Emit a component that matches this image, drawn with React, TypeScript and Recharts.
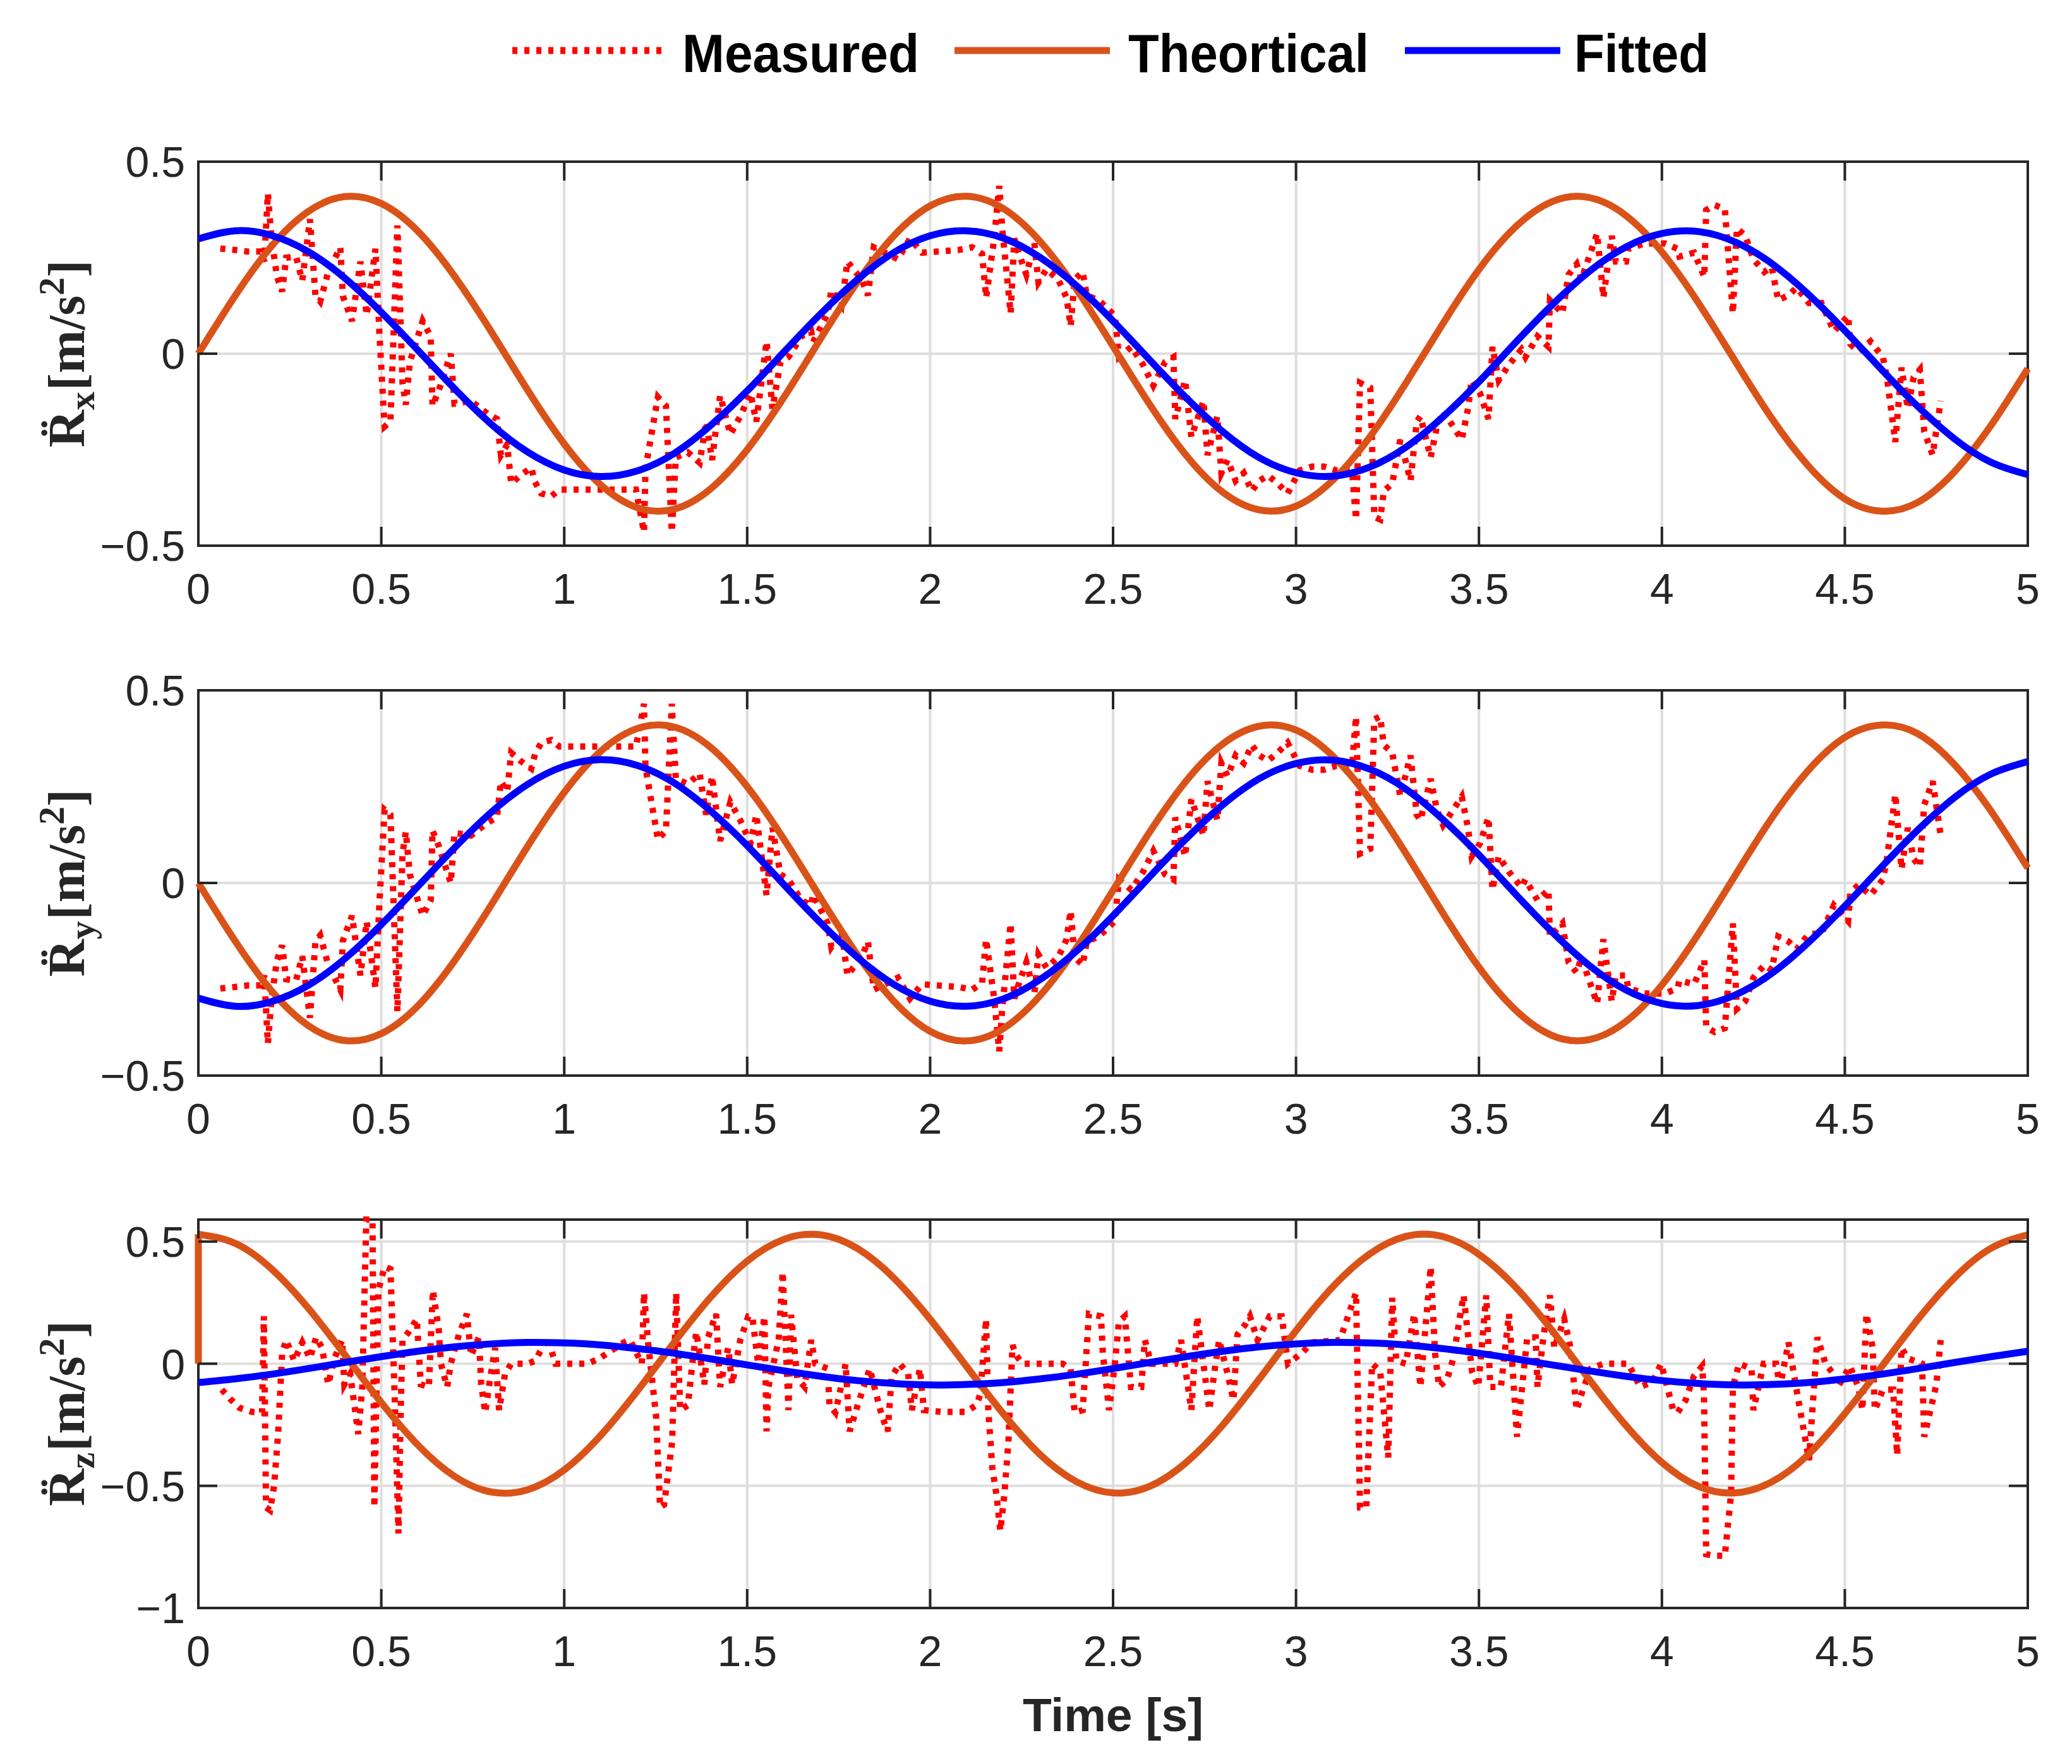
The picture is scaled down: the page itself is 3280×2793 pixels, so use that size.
import React from "react";
import {
  LineChart,
  Line,
  XAxis,
  YAxis,
  CartesianGrid,
  ReferenceArea,
} from "recharts";

// figure geometry (px)
const FIG_W = 3280;
const FIG_H = 2793;
const PLOT_LEFT = 314;
const PLOT_RIGHT = 3210;
const PLOT_W = PLOT_RIGHT - PLOT_LEFT;
const PAD_TOP = 40;
const X_AXIS_H = 130;
const TICK_LEN = 30;
const X_LABEL_GAP = 44;
const Y_LABEL_GAP = 21;

const AXIS_COLOR = "#262626";
const GRID_COLOR = "#dedede";
const RED = "#ff0000";
const ORANGE = "#d95319";
const BLUE = "#0000ff";
const SANS = "'Liberation Sans', Arial, Helvetica, sans-serif";
const SERIF = "'Liberation Serif', 'Times New Roman', serif";

const X_TICKS = [0, 0.5, 1, 1.5, 2, 2.5, 3, 3.5, 4, 4.5, 5];
const Y_TICKS_XY = [-0.5, 0, 0.5];
const Y_TICKS_Z = [-1, -0.5, 0, 0.5];

// time grid of the model curves
const TIME = [
  0, 0.1, 0.2, 0.3, 0.4, 0.5, 0.6, 0.7, 0.8, 0.9,
  1, 1.1, 1.2, 1.3, 1.4, 1.5, 1.6, 1.7, 1.8, 1.9,
  2, 2.1, 2.2, 2.3, 2.4, 2.5, 2.6, 2.7, 2.8, 2.9,
  3, 3.1, 3.2, 3.3, 3.4, 3.5, 3.6, 3.7, 3.8, 3.9,
  4, 4.1, 4.2, 4.3, 4.4, 4.5, 4.6, 4.7, 4.8, 4.9,
  5,
];

const THEO_X = [
  0, 0.15, 0.28, 0.37, 0.409, 0.391, 0.319, 0.202, 0.058, -0.095,
  -0.235, -0.342, -0.401, -0.405, -0.352, -0.25, -0.114, 0.038, 0.185, 0.306,
  0.385, 0.41, 0.378, 0.293, 0.168, 0.019, -0.132, -0.265, -0.361, -0.407,
  -0.397, -0.33, -0.219, -0.077, 0.076, 0.219, 0.33, 0.396, 0.407, 0.361,
  0.265, 0.132, -0.019, -0.168, -0.292, -0.378, -0.41, -0.387, -0.307, -0.186,
  -0.039,
];
const THEO_Y = [
  0, -0.15, -0.28, -0.37, -0.409, -0.391, -0.319, -0.202, -0.058, 0.095,
  0.235, 0.342, 0.401, 0.405, 0.352, 0.25, 0.114, -0.038, -0.185, -0.306,
  -0.385, -0.41, -0.378, -0.293, -0.168, -0.019, 0.132, 0.265, 0.361, 0.407,
  0.397, 0.33, 0.219, 0.077, -0.076, -0.219, -0.33, -0.396, -0.407, -0.361,
  -0.265, -0.132, 0.019, 0.168, 0.292, 0.378, 0.41, 0.387, 0.307, 0.186,
  0.039,
];
const THEO_Z_START = 0;
const THEO_Z = [
  0.53, 0.493, 0.388, 0.228, 0.037, -0.159, -0.333, -0.461, -0.525, -0.516,
  -0.435, -0.293, -0.111, 0.086, 0.272, 0.42, 0.509, 0.528, 0.473, 0.352,
  0.182, -0.012, -0.205, -0.371, -0.483, -0.529, -0.502, -0.404, -0.251, -0.062,
  0.135, 0.314, 0.448, 0.521, 0.521, 0.448, 0.314, 0.136, -0.062, -0.25,
  -0.404, -0.502, -0.529, -0.484, -0.372, -0.204, -0.013, 0.182, 0.352, 0.473,
  0.528,
];

const FIT_X = [
  0.299, 0.32, 0.308, 0.266, 0.197, 0.108, 0.009, -0.091, -0.183, -0.256,
  -0.303, -0.32, -0.305, -0.26, -0.187, -0.097, 0.004, 0.103, 0.192, 0.263,
  0.307, 0.32, 0.301, 0.251, 0.177, 0.085, -0.016, -0.115, -0.203, -0.271,
  -0.31, -0.319, -0.296, -0.244, -0.166, -0.073, 0.029, 0.127, 0.213, 0.277,
  0.313, 0.318, 0.291, 0.235, 0.155, 0.06, -0.041, -0.138, -0.222, -0.283,
  -0.315,
];
const FIT_Y = [
  -0.299, -0.32, -0.308, -0.266, -0.197, -0.108, -0.009, 0.091, 0.183, 0.256,
  0.303, 0.32, 0.305, 0.26, 0.187, 0.097, -0.004, -0.103, -0.192, -0.263,
  -0.307, -0.32, -0.301, -0.251, -0.177, -0.085, 0.016, 0.115, 0.203, 0.271,
  0.31, 0.319, 0.296, 0.244, 0.166, 0.073, -0.029, -0.127, -0.213, -0.277,
  -0.313, -0.318, -0.291, -0.235, -0.155, -0.06, 0.041, 0.138, 0.222, 0.283,
  0.315,
];
const FIT_Z = [
  -0.077, -0.062, -0.043, -0.02, 0.005, 0.029, 0.051, 0.069, 0.081, 0.087,
  0.085, 0.077, 0.062, 0.043, 0.02, -0.005, -0.029, -0.051, -0.069, -0.081,
  -0.087, -0.085, -0.077, -0.062, -0.043, -0.02, 0.005, 0.029, 0.051, 0.069,
  0.081, 0.087, 0.085, 0.077, 0.062, 0.043, 0.02, -0.005, -0.029, -0.051,
  -0.069, -0.081, -0.087, -0.085, -0.077, -0.062, -0.043, -0.02, 0.005, 0.029,
  0.051,
];

// sensor samples (x and y channels share the same timestamps)
const MEAS_XY_T = [
  0.06, 0.1, 0.135, 0.17, 0.18, 0.19, 0.2, 0.215, 0.229, 0.24,
  0.267, 0.284, 0.305, 0.32, 0.333, 0.355, 0.388, 0.395, 0.42, 0.443,
  0.46, 0.484, 0.495, 0.509, 0.525, 0.544, 0.558, 0.567, 0.578, 0.613,
  0.635, 0.64, 0.657, 0.69, 0.7, 0.745, 0.79, 0.816, 0.827, 0.844,
  0.855, 0.88, 0.91, 0.92, 0.937, 0.965, 0.987, 1.196, 1.218, 1.222,
  1.256, 1.278, 1.294, 1.305, 1.338, 1.37, 1.388, 1.404, 1.426, 1.454,
  1.481, 1.509, 1.525, 1.553, 1.569, 1.591, 1.613, 1.648, 1.675, 1.68,
  1.72, 1.73, 1.758, 1.774, 1.79, 1.813, 1.83, 1.846, 1.912, 1.945,
  1.978, 2.02, 2.077, 2.115, 2.142, 2.153, 2.175, 2.189, 2.197, 2.22,
  2.23, 2.241, 2.263, 2.285, 2.296, 2.318, 2.35, 2.373, 2.384, 2.395,
  2.417, 2.428, 2.461, 2.505, 2.516, 2.55, 2.582, 2.61, 2.642, 2.665,
  2.67, 2.697, 2.714, 2.747, 2.758, 2.785, 2.796, 2.813, 2.835, 2.857,
  2.879, 2.9, 2.923, 2.95, 2.977, 3.01, 3.044, 3.077, 3.11, 3.153,
  3.164, 3.175, 3.203, 3.214, 3.23, 3.24, 3.263, 3.285, 3.313, 3.33,
  3.34, 3.368, 3.385, 3.402, 3.425, 3.453, 3.47, 3.48, 3.503, 3.526,
  3.537, 3.554, 3.582, 3.616, 3.627, 3.66, 3.69, 3.694, 3.728, 3.745,
  3.767, 3.78, 3.806, 3.823, 3.84, 3.863, 3.874, 3.902, 3.908, 3.953,
  4.009, 4.043, 4.048, 4.088, 4.116, 4.121, 4.144, 4.172, 4.194, 4.205,
  4.228, 4.25, 4.28, 4.3, 4.318, 4.346, 4.368, 4.402, 4.436, 4.47,
  4.509, 4.515, 4.537, 4.57, 4.604, 4.615, 4.638, 4.655, 4.672, 4.688,
  4.705, 4.717, 4.74, 4.762,
];
const MEAS_X = [
  0.274, 0.27, 0.266, 0.266, 0.24, 0.417, 0.3, 0.2, 0.162, 0.25,
  0.253, 0.19, 0.35, 0.152, 0.136, 0.213, 0.277, 0.15, 0.085, 0.24,
  0.1, 0.273, 0.05, -0.19, -0.177, 0.334, -0.076, -0.133, -0.022, 0.085,
  0.045, -0.136, -0.096, 0, -0.13, -0.123, -0.156, -0.17, -0.264, -0.237,
  -0.338, -0.317, -0.297, -0.334, -0.364, -0.371, -0.354, -0.354, -0.465, -0.3,
  -0.113, -0.136, -0.465, -0.27, -0.257, -0.284, -0.177, -0.277, -0.109, -0.21,
  -0.163, -0.103, -0.177, 0.032, -0.143, -0.022, -0.009, 0.045, 0.058, 0.03,
  0.105, 0.166, 0.126, 0.24, 0.22, 0.193, 0.152, 0.277, 0.246, 0.3,
  0.263, 0.266, 0.27, 0.277, 0.26, 0.146, 0.3, 0.437, 0.327, 0.105,
  0.3, 0.266, 0.206, 0.287, 0.186, 0.22, 0.193, 0.146, 0.072, 0.193,
  0.213, 0.152, 0.139, 0.099, -0.009, 0.018, -0.029, -0.083, -0.022, -0.009,
  -0.17, -0.069, -0.217, -0.123, -0.264, -0.163, -0.311, -0.277, -0.331, -0.311,
  -0.358, -0.331, -0.317, -0.338, -0.364, -0.304, -0.294, -0.294, -0.304, -0.304,
  -0.432, -0.076, -0.089, -0.425, -0.432, -0.358, -0.338, -0.224, -0.331, -0.177,
  -0.163, -0.27, -0.19, -0.15, -0.183, -0.224, -0.143, -0.069, -0.103, -0.17,
  0.018, -0.069, -0.029, 0.011, -0.009, 0.045, 0.018, 0.139, 0.105, 0.206,
  0.233, 0.193, 0.266, 0.313, 0.146, 0.307, 0.24, 0.24, 0.273, 0.287,
  0.287, 0.273, 0.253, 0.263, 0.2, 0.374, 0.387, 0.377, 0.105, 0.327,
  0.307, 0.246, 0.213, 0.226, 0.139, 0.152, 0.172, 0.132, 0.132, 0.058,
  0.099, 0.025, 0.005, 0.032, -0.009, -0.062, -0.23, -0.036, -0.143, -0.062,
  -0.042, -0.203, -0.264, -0.123,
];
const MEAS_Y = [
  -0.274, -0.27, -0.266, -0.266, -0.24, -0.417, -0.3, -0.2, -0.162, -0.25,
  -0.253, -0.19, -0.35, -0.152, -0.136, -0.213, -0.277, -0.15, -0.085, -0.24,
  -0.1, -0.273, -0.05, 0.19, 0.177, -0.334, 0.076, 0.133, 0.022, -0.085,
  -0.045, 0.136, 0.096, 0, 0.13, 0.123, 0.156, 0.17, 0.264, 0.237,
  0.338, 0.317, 0.297, 0.334, 0.364, 0.371, 0.354, 0.354, 0.465, 0.3,
  0.113, 0.136, 0.465, 0.27, 0.257, 0.284, 0.177, 0.277, 0.109, 0.21,
  0.163, 0.103, 0.177, -0.032, 0.143, 0.022, 0.009, -0.045, -0.058, -0.03,
  -0.105, -0.166, -0.126, -0.24, -0.22, -0.193, -0.152, -0.277, -0.246, -0.3,
  -0.263, -0.266, -0.27, -0.277, -0.26, -0.146, -0.3, -0.437, -0.327, -0.105,
  -0.3, -0.266, -0.206, -0.287, -0.186, -0.22, -0.193, -0.146, -0.072, -0.193,
  -0.213, -0.152, -0.139, -0.099, 0.009, -0.018, 0.029, 0.083, 0.022, 0.009,
  0.17, 0.069, 0.217, 0.123, 0.264, 0.163, 0.311, 0.277, 0.331, 0.311,
  0.358, 0.331, 0.317, 0.338, 0.364, 0.304, 0.294, 0.294, 0.304, 0.304,
  0.432, 0.076, 0.089, 0.425, 0.432, 0.358, 0.338, 0.224, 0.331, 0.177,
  0.163, 0.27, 0.19, 0.15, 0.183, 0.224, 0.143, 0.069, 0.103, 0.17,
  -0.018, 0.069, 0.029, -0.011, 0.009, -0.045, -0.018, -0.139, -0.105, -0.206,
  -0.233, -0.193, -0.266, -0.313, -0.146, -0.307, -0.24, -0.24, -0.273, -0.287,
  -0.287, -0.273, -0.253, -0.263, -0.2, -0.374, -0.387, -0.377, -0.105, -0.327,
  -0.307, -0.246, -0.213, -0.226, -0.139, -0.152, -0.172, -0.132, -0.132, -0.058,
  -0.099, -0.025, -0.005, -0.032, 0.009, 0.062, 0.23, 0.036, 0.143, 0.062,
  0.042, 0.203, 0.264, 0.123,
];

const MEAS_Z_T = [
  0.064, 0.086, 0.113, 0.146, 0.174, 0.179, 0.185, 0.196, 0.207, 0.218,
  0.229, 0.24, 0.262, 0.284, 0.305, 0.322, 0.338, 0.355, 0.372, 0.393,
  0.399, 0.415, 0.437, 0.448, 0.459, 0.476, 0.481, 0.492, 0.509, 0.525,
  0.536, 0.547, 0.553, 0.558, 0.575, 0.597, 0.608, 0.63, 0.641, 0.657,
  0.663, 0.68, 0.69, 0.712, 0.734, 0.745, 0.767, 0.773, 0.784, 0.795,
  0.811, 0.822, 0.838, 0.855, 0.899, 0.921, 0.954, 0.976, 1.064, 1.097,
  1.13, 1.163, 1.18, 1.212, 1.218, 1.229, 1.251, 1.262, 1.273, 1.295,
  1.306, 1.317, 1.338, 1.35, 1.361, 1.383, 1.393, 1.415, 1.426, 1.448,
  1.459, 1.481, 1.503, 1.514, 1.53, 1.547, 1.553, 1.558, 1.586, 1.597,
  1.613, 1.62, 1.637, 1.657, 1.675, 1.686, 1.72, 1.725, 1.741, 1.758,
  1.769, 1.78, 1.802, 1.835, 1.846, 1.868, 1.884, 1.895, 1.917, 1.94,
  1.95, 1.972, 1.983, 2.033, 2.098, 2.126, 2.137, 2.153, 2.159, 2.17,
  2.181, 2.192, 2.203, 2.214, 2.225, 2.236, 2.252, 2.362, 2.384, 2.395,
  2.417, 2.434, 2.467, 2.472, 2.489, 2.505, 2.516, 2.532, 2.549, 2.577,
  2.587, 2.604, 2.67, 2.686, 2.714, 2.73, 2.747, 2.763, 2.78, 2.79,
  2.813, 2.829, 2.84, 2.862, 2.874, 2.895, 2.928, 2.961, 2.978, 3.016,
  3.044, 3.12, 3.164, 3.175, 3.192, 3.208, 3.23, 3.252, 3.263, 3.274,
  3.3, 3.323, 3.34, 3.368, 3.38, 3.391, 3.413, 3.43, 3.447, 3.458,
  3.481, 3.498, 3.52, 3.531, 3.56, 3.582, 3.593, 3.604, 3.621, 3.632,
  3.655, 3.66, 3.677, 3.694, 3.706, 3.733, 3.75, 3.767, 3.784, 3.806,
  3.84, 3.908, 3.941, 3.975, 3.998, 4.031, 4.043, 4.065, 4.087, 4.11,
  4.115, 4.121, 4.144, 4.172, 4.189, 4.194, 4.211, 4.245, 4.25, 4.278,
  4.312, 4.323, 4.346, 4.368, 4.402, 4.425, 4.447, 4.469, 4.481, 4.514,
  4.537, 4.548, 4.559, 4.576, 4.582, 4.604, 4.632, 4.643, 4.655, 4.672,
  4.711, 4.717, 4.75, 4.762,
];
const MEAS_Z = [
  -0.106, -0.143, -0.181, -0.197, -0.2, 0.194, -0.588, -0.6, -0.5, -0.288,
  0.044, 0.097, 0.012, 0.087, 0.022, 0.108, 0.065, -0.085, 0.022, 0.097,
  -0.085, -0.042, -0.288, -0.095, 0.59, 0.59, -0.588, 0.3, 0.397, 0.387,
  -0.106, -0.695, -0.19, 0.097, 0.13, 0.183, -0.085, -0.095, 0.3, 0.14,
  0, -0.095, 0, 0.119, 0.204, 0.033, 0.108, -0.085, -0.2, -0.085,
  0.065, -0.19, -0.042, 0, 0, 0.012, 0.108, 0, 0, 0.022,
  0.055, 0.087, 0.097, 0, 0.29, 0.087, -0.213, -0.588, -0.577, -0.32,
  0.29, -0.19, -0.17, 0, 0.13, -0.085, 0.108, 0.204, -0.095, 0.065,
  -0.085, 0.097, 0.194, 0.194, 0, 0.194, -0.277, -0.095, 0.097, 0.376,
  -0.19, 0.2, -0.06, -0.095, 0.097, 0, -0.02, -0.17, -0.2, -0.085,
  0, -0.277, -0.17, -0.02, -0.085, -0.213, -0.277, -0.052, 0, -0.042,
  -0.19, -0.02, -0.19, -0.197, -0.197, -0.17, -0.127, 0.183, -0.19, -0.427,
  -0.534, -0.684, -0.534, -0.32, 0.076, 0.033, 0, 0, -0.02, -0.2,
  -0.19, 0.204, 0.194, 0.044, -0.19, 0, 0.172, 0.194, -0.095, -0.095,
  0.097, 0, 0, 0.097, -0.19, 0.194, 0, -0.19, 0, 0.097,
  -0.042, -0.149, 0.119, 0.162, 0.194, 0.097, 0.194, 0.194, 0, 0.044,
  0.087, 0.097, 0.29, -0.588, -0.588, 0, -0.031, -0.384, 0.27, 0.012,
  0, 0.204, -0.095, 0.397, 0.044, -0.095, -0.063, 0.022, 0.183, 0.28,
  -0.031, -0.095, 0.28, -0.095, -0.095, 0.204, -0.042, -0.299, -0.052, 0.108,
  0.108, -0.095, 0.119, 0.28, 0.065, 0.183, 0.065, -0.19, -0.106, -0.02,
  0, 0, -0.095, -0.074, 0, -0.19, -0.2, -0.149, -0.052, -0.01,
  -0.127, -0.78, -0.786, -0.786, -0.534, -0.095, 0, -0.02, -0.19, 0,
  0, -0.095, 0.087, -0.106, -0.395, 0.108, 0, -0.042, -0.095, -0.01,
  -0.095, -0.19, 0.204, 0.065, -0.19, -0.106, -0.106, -0.374, 0.065, 0.022,
  0, -0.299, -0.085, 0.097,
];

type PanelDef = {
  id: string;
  top: number;
  plotH: number;
  domain: [number, number];
  yTicks: number[];
  measT: number[];
  measV: number[];
  theo: number[];
  fit: number[];
  theoStart?: number;
};

const PANELS: PanelDef[] = [
  { id: "x", top: 256, plotH: 608, domain: [-0.5, 0.5], yTicks: Y_TICKS_XY, measT: MEAS_XY_T, measV: MEAS_X, theo: THEO_X, fit: FIT_X },
  { id: "y", top: 1093, plotH: 610, domain: [-0.5, 0.5], yTicks: Y_TICKS_XY, measT: MEAS_XY_T, measV: MEAS_Y, theo: THEO_Y, fit: FIT_Y },
  { id: "z", top: 1931, plotH: 615, domain: [-1, 0.59], yTicks: Y_TICKS_Z, measT: MEAS_Z_T, measV: MEAS_Z, theo: THEO_Z, fit: FIT_Z, theoStart: THEO_Z_START },
];

const fmt = (v: number) => (v < 0 ? "\u2212" + Math.abs(v) : String(v));

// MATLAB-style ticks: pointing inward, mirrored on the opposite side of the box
const xTick = (plotH: number) => (p: any) => {
  const axisY = p.y - X_LABEL_GAP;
  return (
    <g>
      <line x1={p.x} x2={p.x} y1={axisY} y2={axisY - TICK_LEN} stroke={AXIS_COLOR} strokeWidth={4} />
      <line x1={p.x} x2={p.x} y1={axisY - plotH} y2={axisY - plotH + TICK_LEN} stroke={AXIS_COLOR} strokeWidth={4} />
      <text x={p.x} y={p.y} dy="0.71em" textAnchor="middle" fontFamily={SANS} fontSize={68} fill={AXIS_COLOR}>
        {fmt(p.payload.value)}
      </text>
    </g>
  );
};

const yTick = (p: any) => {
  const axisX = p.x + Y_LABEL_GAP;
  return (
    <g>
      <line x1={axisX} x2={axisX + TICK_LEN} y1={p.y} y2={p.y} stroke={AXIS_COLOR} strokeWidth={4} />
      <line x1={axisX + PLOT_W} x2={axisX + PLOT_W - TICK_LEN} y1={p.y} y2={p.y} stroke={AXIS_COLOR} strokeWidth={4} />
      <text x={p.x} y={p.y} dy="0.36em" textAnchor="end" fontFamily={SANS} fontSize={68} fill={AXIS_COLOR}>
        {fmt(p.payload.value)}
      </text>
    </g>
  );
};

function Panel({ def }: { def: PanelDef }) {
  const rows = TIME.map((t, i) => ({ t, theo: def.theo[i], fit: def.fit[i] }));
  const meas = def.measT.map((t, i) => ({ t, v: def.measV[i] }));
  const jump =
    def.theoStart !== undefined
      ? [
          { t: TIME[0], v: def.theoStart },
          { t: TIME[0], v: def.theo[0] },
        ]
      : null;

  return (
    <div style={{ position: "absolute", left: 0, top: def.top - PAD_TOP }}>
      <LineChart
        width={FIG_W}
        height={PAD_TOP + def.plotH + X_AXIS_H}
        data={rows}
        margin={{ top: PAD_TOP, right: FIG_W - PLOT_RIGHT, bottom: 0, left: 0 }}
      >
        <CartesianGrid stroke={GRID_COLOR} strokeWidth={4} />
        <XAxis
          dataKey="t"
          type="number"
          domain={[0, 5]}
          ticks={X_TICKS}
          interval={0}
          height={X_AXIS_H}
          tickSize={0}
          tickMargin={X_LABEL_GAP}
          tickLine={false}
          axisLine={false}
          tick={xTick(def.plotH)}
        />
        <YAxis
          type="number"
          domain={def.domain}
          ticks={def.yTicks}
          interval={0}
          width={PLOT_LEFT}
          tickSize={0}
          tickMargin={Y_LABEL_GAP}
          tickLine={false}
          axisLine={false}
          tick={yTick}
        />
        <ReferenceArea
          x1={0}
          x2={5}
          y1={def.domain[0]}
          y2={def.domain[1]}
          fill="none"
          stroke={AXIS_COLOR}
          strokeWidth={4}
        />
        <Line
          data={meas}
          dataKey="v"
          type="linear"
          stroke={RED}
          strokeWidth={10}
          strokeDasharray="8 11"
          dot={false}
          activeDot={false}
          isAnimationActive={false}
        />
        {jump && (
          <Line
            data={jump}
            dataKey="v"
            type="linear"
            stroke={ORANGE}
            strokeWidth={11}
            dot={false}
            activeDot={false}
            isAnimationActive={false}
          />
        )}
        <Line
          dataKey="theo"
          type="natural"
          stroke={ORANGE}
          strokeWidth={11}
          dot={false}
          activeDot={false}
          isAnimationActive={false}
        />
        <Line
          dataKey="fit"
          type="natural"
          stroke={BLUE}
          strokeWidth={11}
          dot={false}
          activeDot={false}
          isAnimationActive={false}
        />
      </LineChart>
    </div>
  );
}

function AxisTitle({ cy, sub }: { cy: number; sub: string }) {
  return (
    <text
      transform={`translate(133 ${cy}) rotate(-90)`}
      textAnchor="middle"
      fontFamily={SERIF}
      fontSize={82}
      fontWeight="bold"
      fill={AXIS_COLOR}
    >
      {"R\u0308"}
      <tspan fontSize={58} dy={16}>{sub}</tspan>
      <tspan dy={-16} dx={2}>[m/s</tspan>
      <tspan fontSize={58} dy={-32}>2</tspan>
      <tspan dy={32}>]</tspan>
    </text>
  );
}

export default function App() {
  return (
    <div
      style={{
        position: "absolute",
        left: 0,
        top: 0,
        width: FIG_W,
        height: FIG_H,
        background: "#ffffff",
        overflow: "hidden",
      }}
    >
      {PANELS.map((p) => (
        <Panel key={p.id} def={p} />
      ))}
      <svg
        width={FIG_W}
        height={FIG_H}
        style={{ position: "absolute", left: 0, top: 0, pointerEvents: "none" }}
      >
        {/* legend */}
        <line x1={811} x2={1055} y1={80} y2={80} stroke={RED} strokeWidth={11} strokeDasharray="8 11" />
        <text x={1080} y={114} fontFamily={SANS} fontWeight="bold" fontSize={86} textLength={375} lengthAdjust="spacingAndGlyphs" fill="#000">
          Measured
        </text>
        <line x1={1511} x2={1757} y1={80} y2={80} stroke={ORANGE} strokeWidth={11} />
        <text x={1786} y={114} fontFamily={SANS} fontWeight="bold" fontSize={86} textLength={381} lengthAdjust="spacingAndGlyphs" fill="#000">
          Theortical
        </text>
        <line x1={2224} x2={2470} y1={80} y2={80} stroke={BLUE} strokeWidth={11} />
        <text x={2492} y={114} fontFamily={SANS} fontWeight="bold" fontSize={86} textLength={213} lengthAdjust="spacingAndGlyphs" fill="#000">
          Fitted
        </text>

        {/* axis titles */}
        <AxisTitle cy={560} sub="x" />
        <AxisTitle cy={1398} sub="y" />
        <AxisTitle cy={2238} sub="z" />
        <text x={1762} y={2741} textAnchor="middle" fontFamily={SANS} fontWeight="bold" fontSize={75} fill={AXIS_COLOR}>
          Time [s]
        </text>
      </svg>
    </div>
  );
}
